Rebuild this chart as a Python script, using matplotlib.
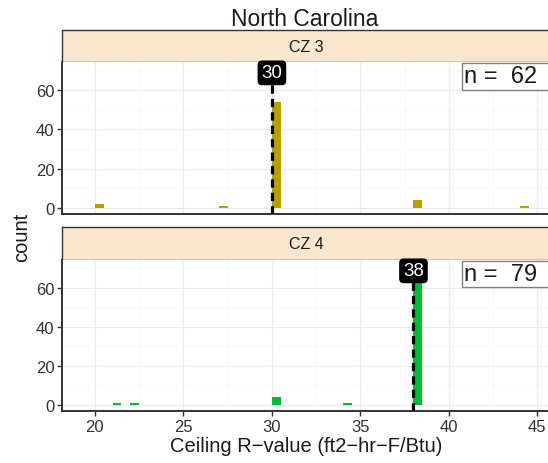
import matplotlib
matplotlib.use("Agg")
import matplotlib.pyplot as plt
from matplotlib.patches import Rectangle

plt.rcParams['font.family'] = ['Liberation Sans', 'DejaVu Sans']

# data (bin start, count), bin width 0.5
zones = ["CZ 3", "CZ 4"]
cz3_bins = [20.0, 27.0, 30.0, 38.0, 44.0]
cz3_counts = [2, 1, 54, 4, 1]
cz4_bins = [21.0, 22.0, 30.0, 34.0, 38.0]
cz4_counts = [1, 1, 4, 1, 72]
medians = [30, 38]
totals = [62, 79]
colors = ["#B79F00", "#00BA38"]

x_ticks = [20, 25, 30, 35, 40, 45]
y_ticks = [0, 20, 40, 60]

W, H = 548, 464
fig = plt.figure(figsize=(W / 100, H / 100), dpi=100)

def frac(px_left, px_top, px_w, px_h):
    return [px_left / W, 1 - (px_top + px_h) / H, px_w / W, px_h / H]

# pixel layout: (strip top, panel top, panel bottom)
rows = [(31, 63, 215), (228, 261, 412)]
left, right = 62, 551
bins = [cz3_bins, cz4_bins]
counts = [cz3_counts, cz4_counts]
dark = "#333333"

for i, (s_top, p_top, p_bot) in enumerate(rows):
    # strip
    sax = fig.add_axes(frac(left, s_top, right - left, p_top - s_top))
    sax.set_facecolor("#F9E6CF")
    sax.set_xticks([])
    sax.set_yticks([])
    for sp in sax.spines.values():
        sp.set_color(dark)
        sp.set_linewidth(1.0)
    sax.text(0.5, 0.5, zones[i], ha="center", va="center", fontsize=11.5,
             color="#1A1A1A", transform=sax.transAxes)

    ax = fig.add_axes(frac(left, p_top, right - left, p_bot - p_top))
    ax.set_xlim(18.14, 45.77)
    ax.set_ylim(-3.05, 74.2)
    ax.bar(bins[i], counts[i], width=0.5, align="edge", color=colors[i], zorder=3)
    ax.axvline(medians[i], color="black", lw=2.3, linestyle=(0, (2.6, 1.6)), zorder=4)
    ax.text(medians[i], 73.0, str(medians[i]), ha="center", va="top", fontsize=13.5,
            color="white", zorder=6,
            bbox=dict(boxstyle="round,pad=0.17,rounding_size=0.2", fc="black", ec="black"))

    # n = box, running off the right edge like the original
    ax.add_patch(Rectangle((0.8176, 0.818), 0.3, 0.177, transform=ax.transAxes,
                           fc="white", ec="#808080", lw=1.0, zorder=5, clip_on=False))
    ax.text(0.822, 0.905, "n =  %d" % totals[i], transform=ax.transAxes, ha="left",
            va="center", fontsize=17, color="#1A1A1A", zorder=6)

    ax.set_xticks(x_ticks)
    ax.set_xticks([22.5, 27.5, 32.5, 37.5, 42.5], minor=True)
    ax.set_yticks(y_ticks)
    ax.set_yticks([10, 30, 50, 70], minor=True)
    ax.grid(True, which="major", color="#EBEBEB", lw=0.8, zorder=0)
    ax.grid(True, which="minor", color="#F4F4F4", lw=0.5, zorder=0)
    ax.tick_params(which="minor", length=0)
    ax.tick_params(which="major", length=3.5, width=1.0, color=dark, labelsize=12,
                   labelcolor=dark, pad=2)
    for side in ["top", "right"]:
        ax.spines[side].set_visible(False)
    for side in ["left", "bottom"]:
        ax.spines[side].set_color(dark)
        ax.spines[side].set_linewidth(1.4)
    if i == 0:
        ax.tick_params(axis="x", labelbottom=False, length=0)
    else:
        ax.set_xlabel("Ceiling R\u2212value (ft2\u2212hr\u2212F/Btu)", fontsize=14.5,
                      color="#1A1A1A", labelpad=2)

fig.text(305 / W, 1 - 20 / H, "North Carolina", ha="center", va="center",
         fontsize=16.5, color="#1A1A1A")
fig.text(22 / W, 1 - 237 / H, "count", ha="center", va="center", rotation=90,
         fontsize=14.5, color="#1A1A1A")

fig.savefig("out.png", dpi=100)
